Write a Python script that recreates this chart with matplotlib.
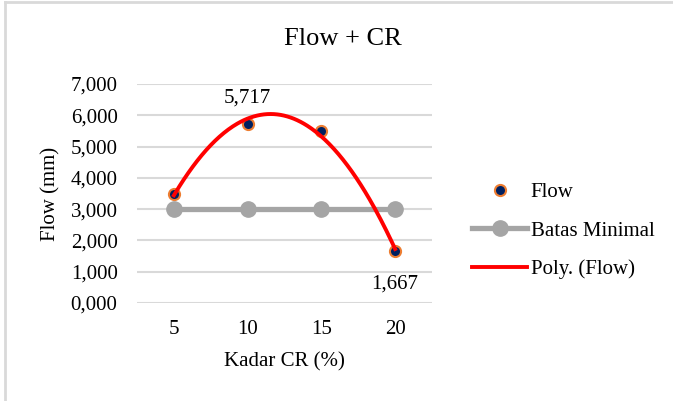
import numpy as np
import matplotlib.pyplot as plt
from matplotlib.lines import Line2D
from matplotlib.ticker import FuncFormatter

plt.rcParams['font.family'] = ['Liberation Serif', 'DejaVu Serif']

# data
kadar = ['5', '10', '15', '20']
flow = [3.5, 5.717, 5.5, 1.667]
batas = [3.0, 3.0, 3.0, 3.0]
label_idx = [1, 3]  # points that carry a data label

x = np.arange(len(kadar))

fig = plt.figure(figsize=(6.73, 4.01), dpi=100)
ax = fig.add_axes([137/673, 1 - 303/401, (432 - 137)/673, (303 - 84)/401])

ax.plot(x, batas, color='#A5A5A5', lw=3.8, marker='o', ms=11,
        label='Batas Minimal', zorder=2)

# polynomial (order 2) trendline, as Excel does
coef = np.polyfit(x, flow, 2)
xs = np.linspace(x[0], x[-1], 200)
ax.plot(xs, np.polyval(coef, xs), color='#FF0000', lw=2.8, label='Poly. (Flow)', zorder=4)

ax.plot(x, flow, linestyle='', marker='o', ms=8, markerfacecolor='#002060',
        markeredgecolor='#ED7D31', markeredgewidth=1.5, label='Flow', zorder=3)

for i in label_idx:
    txt = f'{flow[i]:.3f}'.replace('.', ',')
    if flow[i] > 3:
        ax.annotate(txt, (x[i], flow[i]), xytext=(0, 19), textcoords='offset points',
                    ha='center', va='center', fontsize=15)
    else:
        ax.annotate(txt, (x[i], flow[i]), xytext=(0, -24), textcoords='offset points',
                    ha='center', va='center', fontsize=15)

ax.set_xlim(-0.5, len(kadar) - 0.5)
ax.set_ylim(0, 7)
ax.set_yticks(np.arange(0, 8, 1))
ax.yaxis.set_major_formatter(FuncFormatter(lambda v, p: f'{v:.3f}'.replace('.', ',')))
ax.set_xticks(x)
ax.set_xticklabels(kadar)
ax.tick_params(axis='both', length=0, labelsize=15)
ax.tick_params(axis='y', pad=14)
ax.tick_params(axis='x', pad=12)
ax.grid(axis='y', color='#D9D9D9', lw=1.5)
ax.set_axisbelow(True)
for s in ax.spines.values():
    s.set_visible(False)

ax.set_xlabel('Kadar CR (%)', fontsize=15, labelpad=10)
ax.set_ylabel('Flow (mm)', fontsize=15, labelpad=7)

fig.text(343/673, 1 - 39/401, 'Flow + CR', ha='center', va='center', fontsize=19)

h, l = ax.get_legend_handles_labels()
order = [2, 0, 1]
fig.legend([h[i] for i in order], [l[i] for i in order], loc='center left',
           bbox_to_anchor=(462/673, 1 - 231/401), frameon=False, fontsize=15,
           handlelength=2.6, handletextpad=0.2, labelspacing=0.9, borderpad=0)

# chart-area border (left and top only visible)
fig.add_artist(Line2D([5/673, 5/673], [0, 1 - 2/401], color='#D9D9D9', lw=2))
fig.add_artist(Line2D([5/673, 1], [1 - 2/401, 1 - 2/401], color='#D9D9D9', lw=2))

fig.savefig('out.png', dpi=100)
